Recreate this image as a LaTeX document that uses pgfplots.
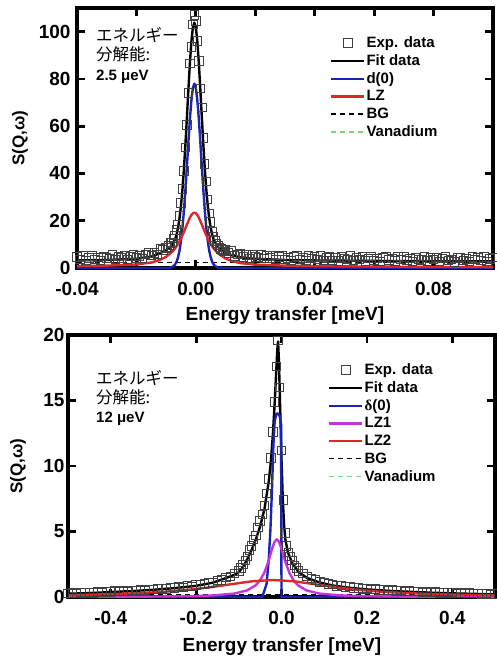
\documentclass[border=0pt]{standalone}
\usepackage{fontspec}
\setmainfont{Liberation Sans}
\newfontfamily\jp{Noto Sans CJK JP}
\newfontfamily\symf{Liberation Serif}
\usepackage{pgfplots}
\pgfplotsset{compat=1.18}

\definecolor{cblue}{RGB}{25,35,180}
\definecolor{cred}{RGB}{220,40,40}
\definecolor{cmag}{RGB}{200,50,220}
\definecolor{cgreen}{RGB}{120,215,120}

\pgfplotsset{
  panel/.style={
    scale only axis,
    axis line style={line width=3.5pt},
    every tick/.style={black, line width=2.8pt},
    major tick length=8pt, minor tick length=8pt,
    tick label style={font=\fontsize{19}{19}\selectfont\bfseries},
    xticklabel style={yshift=-11pt},
    /pgf/number format/assume math mode=true,
    legend cell align=left,
    legend image code/.code={\draw[mark repeat=2,mark phase=2,##1]
      plot coordinates {(0pt,0pt) (16.5pt,0pt) (33pt,0pt)};},
    legend style={draw=none, fill=none, inner sep=0pt, row sep=3.6pt,
      font=\fontsize{15}{15}\selectfont\bfseries, nodes={inner sep=1pt}},
  },
  expdata/.style={only marks, mark=square, mark size=4.2pt,
    mark options={draw=black!75, line width=1pt}},
  curve/.style={line width=2.4pt, line join=round},
  dashcurve/.style={line width=1.4pt, dash pattern=on 5pt off 4pt},
}

\begin{document}
\begin{tikzpicture}
\useasboundingbox (0pt,0pt) rectangle (496pt,-658pt);

% ---- upper panel: resolution 2.5 ueV
\begin{axis}[panel, at={(77pt,-8pt)}, anchor=north west,
  width=416pt, height=260pt,
  xmin=-0.04, xmax=0.10, ymin=0, ymax=110,
  xtick={-0.04,0,0.04,0.08}, xticklabels={-0.04,0.00,0.04,0.08},
  minor xtick={-0.02,0.02,0.06},
  ytick={0,20,40,60,80,100},
  yticklabel style={xshift=-3pt},
  legend style={at={(0.608,0.894)}, anchor=north west}]
\addplot[expdata] coordinates {
(-0.040,4.6) (-0.039,3.6) (-0.038,5.1) (-0.037,3.3) (-0.036,4.3) (-0.035,5.0)
(-0.034,3.5) (-0.033,4.5) (-0.032,3.2) (-0.031,4.9) (-0.030,4.2) (-0.029,3.9)
(-0.028,5.5) (-0.027,3.6) (-0.026,4.8) (-0.025,4.2) (-0.024,5.2) (-0.023,3.6)
(-0.022,4.9) (-0.021,5.7) (-0.020,4.2) (-0.019,5.0) (-0.018,3.9) (-0.017,5.8)
(-0.016,6.3) (-0.015,5.2) (-0.014,6.3) (-0.013,5.8) (-0.012,8.2) (-0.011,7.6)
(-0.010,8.5) (-0.0095,8.8) (-0.009,9.6)
(-0.0085,10.5) (-0.008,10.9) (-0.0075,12.6) (-0.007,13.8) (-0.0065,16.0)
(-0.006,18.5) (-0.0055,22.0) (-0.005,27.5) (-0.0045,33.5) (-0.004,41.0)
(-0.0035,51.0) (-0.003,60.5) (-0.0025,74.0) (-0.002,86.5) (-0.0015,93.5)
(-0.001,103.0) (-0.0005,107.0) (0,104.5) (0.0005,96.0) (0.001,87.5)
(0.0015,76.0) (0.002,68.0) (0.0025,55.0) (0.003,44.0) (0.0035,36.5)
(0.004,29.0) (0.0045,23.0) (0.005,19.5) (0.0055,15.5) (0.006,13.2)
(0.0065,11.5) (0.007,10.4) (0.0075,9.6) (0.008,8.8) (0.0085,8.0) (0.009,7.7)
(0.0095,7.1)
(0.010,7.8) (0.011,6.3) (0.012,7.3) (0.013,5.1) (0.014,5.8) (0.015,6.2)
(0.016,4.6) (0.017,5.5) (0.018,3.9) (0.019,5.5) (0.020,4.7) (0.021,4.4)
(0.022,5.8) (0.023,3.9) (0.024,5.0) (0.025,4.3) (0.026,5.2) (0.027,3.5)
(0.028,4.6) (0.029,5.3) (0.030,3.7) (0.031,4.3) (0.032,3.1) (0.033,4.7)
(0.034,5.0) (0.035,3.7) (0.036,4.3) (0.037,3.3) (0.038,5.1) (0.039,3.9)
(0.040,4.6) (0.041,3.6) (0.042,5.1) (0.043,3.2) (0.044,4.2) (0.045,4.9)
(0.046,3.3) (0.047,4.3) (0.048,2.9) (0.049,4.6) (0.050,3.9) (0.051,3.6)
(0.052,5.1) (0.053,3.2) (0.054,4.4) (0.055,3.7) (0.056,4.6) (0.057,2.9)
(0.058,4.1) (0.059,4.8) (0.060,3.3) (0.061,3.9) (0.062,2.7) (0.063,4.4)
(0.064,4.7) (0.065,3.4) (0.066,4.0) (0.067,2.9) (0.068,4.8) (0.069,3.6)
(0.070,4.6) (0.071,3.1) (0.072,4.1) (0.073,2.7) (0.074,4.4) (0.075,3.7)
(0.076,3.4) (0.077,4.9) (0.078,3.0) (0.079,4.2) (0.080,3.5) (0.081,4.4)
(0.082,2.7) (0.083,3.9) (0.084,4.6) (0.085,3.1) (0.086,3.7) (0.087,2.5)
(0.088,4.2) (0.089,4.5) (0.090,3.2) (0.091,3.8) (0.092,2.8) (0.093,4.7)
(0.094,3.5) (0.095,4.2) (0.096,3.2) (0.097,4.7) (0.098,2.8) (0.099,3.8)
(0.100,4.5)};
\addlegendentry{Exp. data}
\addplot[dashcurve, black, forget plot] coordinates {(-0.04,2.3) (0.10,2.3)};
\addplot[curve, black] coordinates {
(-0.040,3.2) (-0.030,3.4) (-0.020,3.9) (-0.015,4.8) (-0.012,6.3) (-0.010,7.6)
(-0.009,8.5) (-0.008,9.8) (-0.007,12.1) (-0.0065,14.1) (-0.006,17.0)
(-0.0055,21.0) (-0.005,26.4) (-0.0045,33.4) (-0.004,42.2) (-0.0035,52.5)
(-0.003,64.0) (-0.0025,75.7) (-0.002,86.8) (-0.0015,95.8) (-0.001,101.8)
(-0.0005,103.8) (0,101.8) (0.0005,95.8) (0.001,86.8) (0.0015,75.7)
(0.002,64.0) (0.0025,52.5) (0.003,42.2) (0.0035,33.4) (0.004,26.4)
(0.0045,21.0) (0.005,17.0) (0.0055,14.1) (0.006,12.1) (0.007,9.6)
(0.008,8.1) (0.010,6.4) (0.012,5.4) (0.015,4.5) (0.020,3.9) (0.030,3.4)
(0.040,3.2) (0.060,3.0) (0.080,2.85) (0.100,2.8)};
\addlegendentry{Fit data}
\addplot[curve, cblue] coordinates {
(-0.040,0) (-0.010,0) (-0.009,0.08) (-0.008,0.38) (-0.007,1.44) (-0.0065,2.6)
(-0.006,4.47) (-0.0055,7.34) (-0.005,11.5) (-0.0045,17.2) (-0.004,24.5)
(-0.0035,33.3) (-0.003,43.2) (-0.0025,53.4) (-0.002,63.05) (-0.0015,70.96)
(-0.001,76.2) (-0.0005,78) (0,76.2) (0.0005,70.96) (0.001,63.05)
(0.0015,53.4) (0.002,43.2) (0.0025,33.3) (0.003,24.5) (0.0035,17.2)
(0.004,11.5) (0.0045,7.34) (0.005,4.47) (0.0055,2.6) (0.006,1.44)
(0.007,0.38) (0.008,0.08) (0.009,0) (0.100,0)};
\addlegendentry{d(0)}
\addplot[curve, cred] coordinates {
(-0.040,0.8) (-0.030,1.0) (-0.020,1.5) (-0.015,2.31) (-0.012,3.47)
(-0.010,4.76) (-0.008,6.80) (-0.007,8.26) (-0.006,10.12) (-0.005,12.45)
(-0.004,15.28) (-0.003,18.41) (-0.002,21.32) (-0.0015,22.43) (-0.001,23.15)
(-0.0005,23.4) (0,23.15) (0.0005,22.43) (0.001,21.32) (0.002,18.41)
(0.003,15.28) (0.004,12.45) (0.005,10.12) (0.006,8.26) (0.007,6.80)
(0.008,5.66) (0.010,4.04) (0.012,3.01) (0.015,2.05) (0.020,1.45)
(0.030,1.0) (0.040,0.8) (0.060,0.6) (0.080,0.45) (0.100,0.4)};
\addlegendentry{LZ}
\addlegendimage{dashcurve, black}
\addlegendentry{BG}
\addlegendimage{dashcurve, cgreen}
\addlegendentry{Vanadium}
\end{axis}
\node[anchor=north west, align=left, inner sep=0pt,
  font=\fontsize{15}{19.5}\selectfont\bfseries] at (96pt,-27pt)
  {{\mdseries\jp\fontsize{16.5}{19.5}\selectfont エネルギー}\\
   {\mdseries\jp\fontsize{16.5}{19.5}\selectfont 分解能:}\\2.5 μeV};
\node[font=\fontsize{19}{19}\selectfont\bfseries] at (285pt,-316pt)
  {Energy transfer [meV]};
\node[rotate=90, font=\fontsize{17}{17}\selectfont\bfseries] at (20pt,-138pt)
  {S(Q,ω)};

% ---- lower panel: resolution 12 ueV
\begin{axis}[panel, at={(68pt,-335pt)}, anchor=north west,
  width=427pt, height=262pt,
  xmin=-0.5, xmax=0.5, ymin=0, ymax=20,
  xtick={-0.4,-0.2,0,0.2,0.4}, xticklabels={-0.4,-0.2,0.0,0.2,0.4},
  ytick={0,5,10,15,20},
  legend style={at={(0.609,0.895)}, anchor=north west}]
\addplot[expdata] coordinates {
(-0.50,0.28) (-0.49,0.32) (-0.48,0.25) (-0.47,0.35) (-0.46,0.30) (-0.45,0.36)
(-0.44,0.30) (-0.43,0.38) (-0.42,0.35) (-0.41,0.42) (-0.40,0.38) (-0.39,0.45)
(-0.38,0.40) (-0.37,0.47) (-0.36,0.44) (-0.35,0.50) (-0.34,0.47) (-0.33,0.55)
(-0.32,0.50) (-0.31,0.58) (-0.30,0.56) (-0.29,0.60) (-0.28,0.65) (-0.27,0.62)
(-0.26,0.72) (-0.25,0.70) (-0.24,0.78) (-0.23,0.74) (-0.22,0.85) (-0.21,0.82)
(-0.20,0.92) (-0.19,0.95) (-0.18,1.00) (-0.17,1.08) (-0.16,1.12) (-0.15,1.25)
(-0.14,1.30) (-0.13,1.48) (-0.12,1.58) (-0.11,1.80) (-0.100,2.0) (-0.095,2.2)
(-0.090,2.5) (-0.085,2.8) (-0.080,3.1) (-0.075,3.6) (-0.070,3.9) (-0.065,4.4)
(-0.060,4.7) (-0.055,5.3) (-0.050,5.8) (-0.045,6.3) (-0.040,7.0) (-0.035,7.9)
(-0.030,9.0) (-0.025,10.6) (-0.020,12.6) (-0.016,14.9) (-0.012,17.6)
(-0.008,19.6) (-0.004,16.0) (0.000,11.2) (0.004,7.4) (0.008,4.9) (0.012,3.9)
(0.016,3.4) (0.020,3.1) (0.025,2.8) (0.030,2.4) (0.035,2.2) (0.04,2.0)
(0.05,1.8) (0.06,1.55) (0.07,1.40) (0.08,1.30) (0.09,1.15) (0.10,1.10)
(0.11,0.98) (0.12,0.95) (0.13,0.85) (0.14,0.86) (0.15,0.75) (0.16,0.78)
(0.17,0.68) (0.18,0.70) (0.19,0.62) (0.20,0.66) (0.21,0.57) (0.22,0.60)
(0.23,0.52) (0.24,0.55) (0.25,0.50) (0.26,0.52) (0.27,0.45) (0.28,0.48)
(0.29,0.42) (0.30,0.46) (0.31,0.40) (0.32,0.42) (0.33,0.36) (0.34,0.40)
(0.35,0.35) (0.36,0.37) (0.37,0.32) (0.38,0.35) (0.39,0.30) (0.40,0.33)
(0.41,0.28) (0.42,0.30) (0.43,0.26) (0.44,0.30) (0.45,0.25) (0.46,0.27)
(0.47,0.22) (0.48,0.25) (0.49,0.20) (0.50,0.24)};
\addlegendentry{Exp. data}
\addplot[dashcurve, black, forget plot] coordinates {(-0.5,0.15) (0.5,0.15)};
\addplot[curve, black] coordinates {
(-0.50,0.25) (-0.45,0.30) (-0.40,0.38) (-0.35,0.45) (-0.30,0.55) (-0.25,0.68)
(-0.20,0.85) (-0.16,1.10) (-0.13,1.45) (-0.11,1.70) (-0.10,1.90) (-0.09,2.30)
(-0.08,2.90) (-0.07,3.60) (-0.06,4.40) (-0.05,5.40) (-0.04,6.70) (-0.03,8.80)
(-0.025,10.3) (-0.02,12.5) (-0.016,14.8) (-0.013,16.8) (-0.010,18.8)
(-0.008,19.5) (-0.006,18.0) (-0.004,15.5) (-0.002,13.0) (0.000,10.5)
(0.003,7.5) (0.006,5.5) (0.009,4.4) (0.015,3.4) (0.025,2.6) (0.04,1.9)
(0.06,1.45) (0.09,1.10) (0.12,0.88) (0.16,0.70) (0.20,0.58) (0.25,0.47)
(0.30,0.40) (0.35,0.33) (0.40,0.28) (0.45,0.24) (0.50,0.20)};
\addlegendentry{Fit data}
\addplot[curve, cblue] coordinates {
(-0.5,0) (-0.045,0) (-0.035,1.0) (-0.030,2.8) (-0.026,5.1) (-0.022,8.5)
(-0.019,11.6) (-0.016,13.4) (-0.012,14.0) (-0.008,14.0) (-0.004,13.8)
(-0.001,13.2) (0.000,0) (0.5,0)};
\addlegendentry{{\symf δ}(0)}
\addplot[curve, cmag] coordinates {
(-0.5,0.01) (-0.311,0.03) (-0.211,0.068) (-0.161,0.12) (-0.111,0.26)
(-0.081,0.50) (-0.061,0.88) (-0.051,1.24) (-0.041,1.80) (-0.031,2.68)
(-0.026,3.24) (-0.021,3.79) (-0.016,4.23) (-0.011,4.4) (-0.006,4.23)
(-0.001,3.79) (0.004,3.24) (0.009,2.68) (0.019,1.80) (0.029,1.24)
(0.039,0.88) (0.059,0.50) (0.089,0.26) (0.139,0.12) (0.189,0.068)
(0.289,0.03) (0.5,0.01)};
\addlegendentry{LZ1}
\addplot[curve, cred] coordinates {
(-0.50,0.145) (-0.40,0.217) (-0.32,0.316) (-0.27,0.411) (-0.22,0.545)
(-0.17,0.731) (-0.12,0.966) (-0.07,1.196) (-0.02,1.3) (0.03,1.196)
(0.08,0.966) (0.13,0.731) (0.18,0.545) (0.23,0.411) (0.28,0.316)
(0.36,0.217) (0.46,0.145) (0.50,0.126)};
\addlegendentry{LZ2}
\addlegendimage{dashcurve, black}
\addlegendentry{BG}
\addlegendimage{dashcurve, cgreen}
\addlegendentry{Vanadium}
\end{axis}
\node[anchor=north west, align=left, inner sep=0pt,
  font=\fontsize{15}{19}\selectfont\bfseries] at (96pt,-370pt)
  {{\mdseries\jp\fontsize{16.5}{19}\selectfont エネルギー}\\
   {\mdseries\jp\fontsize{16.5}{19}\selectfont 分解能:}\\12 μeV};
\node[font=\fontsize{19}{19}\selectfont\bfseries] at (282pt,-647pt)
  {Energy transfer [meV]};
\node[rotate=90, font=\fontsize{17}{17}\selectfont\bfseries] at (18pt,-466pt)
  {S(Q,ω)};
\end{tikzpicture}
\end{document}
